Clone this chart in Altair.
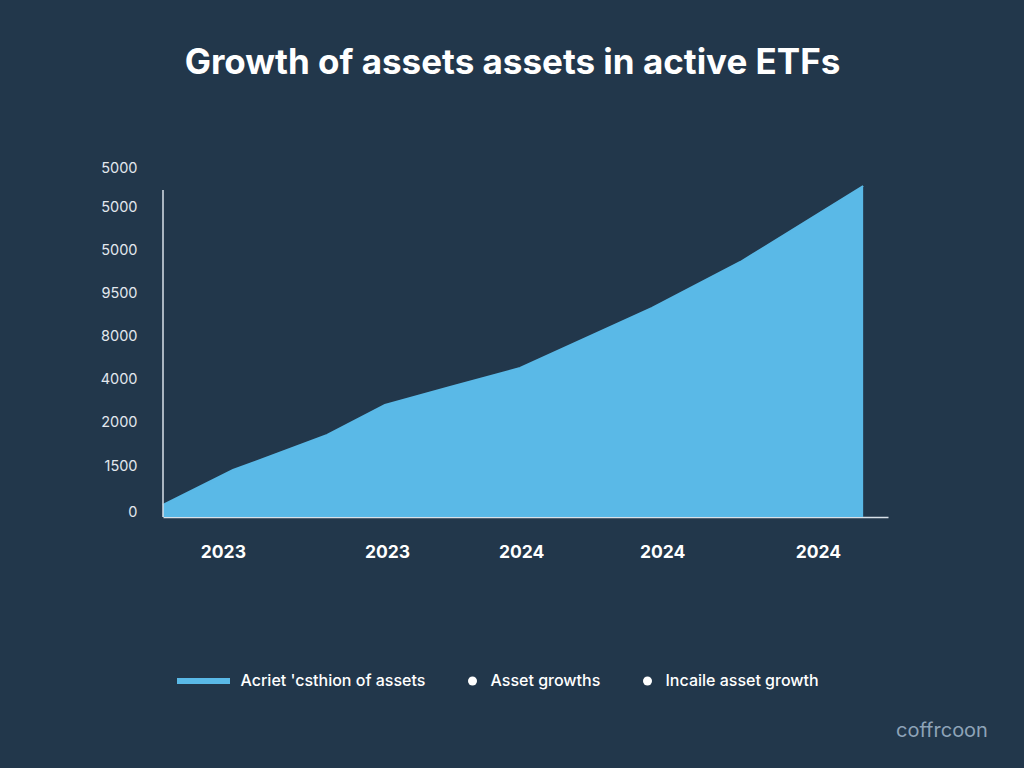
import altair as alt
import pandas as pd

# ---- data ----
months = [0, 2.0, 4.69, 6.34, 8.2, 10.2, 13.97, 16.49, 20.0]
assets = [240, 940, 1640, 2240, 2600, 2980, 4180, 5100, 6620]
series_names = ["Acriet 'csthion of assets", "Asset growths", "Incaile asset growth"]

x_tick_values = [1.71, 6.4, 10.23, 14.26, 18.71]
x_tick_labels = ["2023", "2023", "2024", "2024", "2024"]

y_tick_values = [100, 1020, 1900, 2760, 3620, 4480, 5340, 6200, 6980]
y_tick_labels = ["0", "1500", "2000", "4000", "8000", "9500", "5000", "5000", "5000"]

x_max = 20.71
y_max = 6980
y_axis_top = 6540

title_text = "Growth of assets assets in active ETFs"
watermark = ["coffrcoon"]

BG = "#22374b"
AREA = "#5ab9e7"
AXIS = "#d8e0e8"

# page background matches the chart background (so the 8px page margin is not white)
try:
    from altair.utils import html as _alt_html
    _tpl = _alt_html.TEMPLATES["standard"]
    _orig_render = _tpl.render

    def _render(*args, **kwargs):
        out = _orig_render(*args, **kwargs)
        return out.replace(
            "<head>", "<head><style>html,body{background:%s;}</style>" % BG, 1
        )

    _tpl.render = _render
except Exception:
    pass

df = pd.DataFrame({"month": months, "assets": assets, "series": series_names[0]})

x_label_expr = "{}[indexof({}, datum.value)]".format(
    "[" + ",".join("'%s'" % s for s in x_tick_labels) + "]",
    "[" + ",".join(str(v) for v in x_tick_values) + "]",
)
y_label_expr = "{}[indexof({}, datum.value)]".format(
    "[" + ",".join("'%s'" % s for s in y_tick_labels) + "]",
    "[" + ",".join(str(v) for v in y_tick_values) + "]",
)

x_enc = alt.X(
    "month:Q",
    scale=alt.Scale(domain=[0, x_max], nice=False, zero=False),
    axis=alt.Axis(
        values=x_tick_values, labelExpr=x_label_expr, title=None, grid=False,
        ticks=False, tickSize=0, domain=True, domainColor=AXIS, domainWidth=1.5,
        labelColor="white", labelFont="Inter", labelFontSize=17.5, labelFontWeight="bold",
        labelPadding=26, labelBaseline="top",
    ),
)
y_enc = alt.Y(
    "assets:Q",
    scale=alt.Scale(domain=[0, y_max], nice=False),
    axis=alt.Axis(
        values=y_tick_values, labelExpr=y_label_expr, title=None, grid=False,
        ticks=False, tickSize=0, domain=False,
        labelColor="#e3e8ee", labelFont="Inter", labelFontSize=14.5,
        labelPadding=26, labelAlign="right", labelBaseline="middle",
    ),
)

legend = alt.Legend(
    orient="none", legendX=14, legendY=505, direction="horizontal", title=None,
    labelColor="white", labelFont="Inter", labelFontSize=16, labelFontWeight=500,
    labelLimit=400, columnPadding=42, padding=0, symbolSize=81, symbolStrokeWidth=0,
    symbolOpacity=1,
    symbolType=alt.ExprRef(expr="datum.index === 0 ? 'M-5.889,-0.667H5.889V0.667H-5.889Z' : 'circle'"),
    symbolOffset=alt.ExprRef(expr="datum.index === 0 ? 18.5 : -3.5"),
    labelOffset=alt.ExprRef(expr="datum.index === 0 ? 29 : 10"),
)

area = alt.Chart(df).mark_area(
    opacity=1, line={"color": "#e8f4fb", "strokeWidth": 2}
).encode(
    x=x_enc,
    y=y_enc,
    color=alt.Color(
        "series:N",
        scale=alt.Scale(domain=series_names, range=[AREA, "white", "white"]),
        legend=legend,
    ),
)

axis_df = pd.DataFrame({"month": [0], "assets": [0], "top": [y_axis_top]})
y_line = alt.Chart(axis_df).mark_rule(color=AXIS, strokeWidth=1.5).encode(
    x="month:Q", y="assets:Q", y2="top:Q"
)

wm = alt.Chart(pd.DataFrame({"t": watermark})).mark_text(
    font="Inter", fontSize=20, color="#8ea3b8", align="center", baseline="middle"
).encode(x=alt.value(779), y=alt.value(563), text="t:N")

chart = alt.layer(area, y_line, wm).properties(
    width=725,
    height=349,
    autosize=alt.AutoSizeParams(type="none"),
    padding={"left": 155, "top": 160, "right": 128, "bottom": 243},
    background=BG,
    title=alt.TitleParams(
        title_text, color="white", font="Inter", fontSize=35, fontWeight="bold",
        anchor="middle", offset=79, dx=-13,
    ),
).configure_view(stroke=None)

chart.save("out.html", embed_options={"renderer": "svg", "actions": False})
